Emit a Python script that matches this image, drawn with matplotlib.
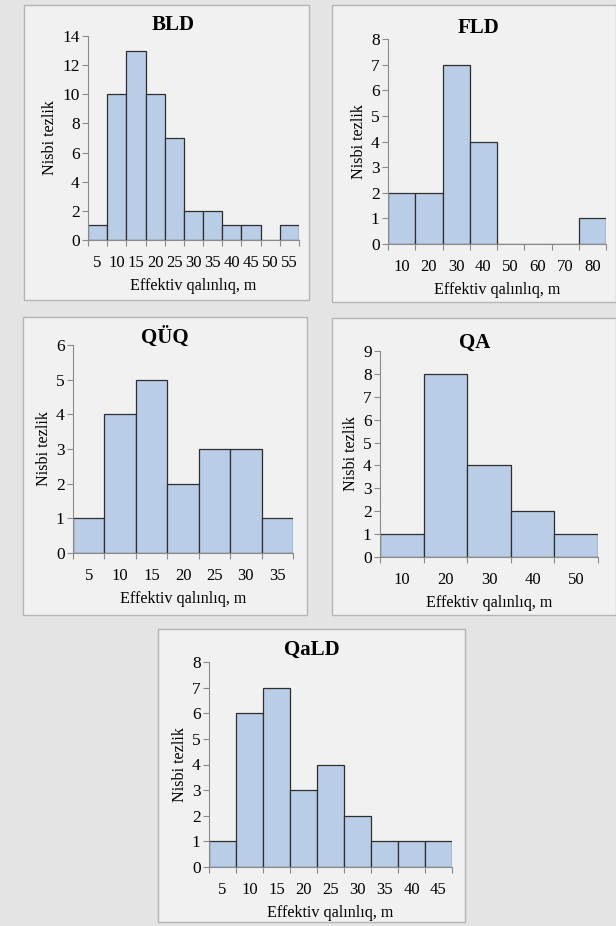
import matplotlib
matplotlib.use('Agg')
import matplotlib.pyplot as plt
from matplotlib.patches import Rectangle

# data
bld_labels = ['5', '10', '15', '20', '25', '30', '35', '40', '45', '50', '55']
bld_values = [1, 10, 13, 10, 7, 2, 2, 1, 1, 0, 1]

fld_labels = ['10', '20', '30', '40', '50', '60', '70', '80']
fld_values = [2, 2, 7, 4, 0, 0, 0, 1]

quq_labels = ['5', '10', '15', '20', '25', '30', '35']
quq_values = [1, 4, 5, 2, 3, 3, 1]

qa_labels = ['10', '20', '30', '40', '50']
qa_values = [1, 8, 4, 2, 1]

qald_labels = ['5', '10', '15', '20', '25', '30', '35', '40', '45']
qald_values = [1, 6, 7, 3, 4, 2, 1, 1, 1]

W, H = 616, 926
plt.rcParams['font.family'] = ['Liberation Serif', 'DejaVu Serif']

fig = plt.figure(figsize=(W / 100, H / 100), dpi=100, facecolor='#e4e4e4')


def px_rect(x0, y0, x1, y1):
    # pixel box (top-left origin) -> figure fraction
    return [x0 / W, 1 - y1 / H, (x1 - x0) / W, (y1 - y0) / H]


def panel(box, axbox, title, title_xy, labels, values, ymax):
    bx = px_rect(*box)
    fig.patches.append(Rectangle((bx[0], bx[1]), bx[2], bx[3], transform=fig.transFigure,
                                 facecolor='#f1f1f1', edgecolor='#b5b5b5', lw=1.0, zorder=-5))
    ax = fig.add_axes(px_rect(*axbox))
    ax.set_zorder(2)
    ax.set_facecolor('none')
    n = len(values)
    ax.bar(range(n), values, width=1.0, color='#b9cde6', edgecolor='#2e2e2e', lw=0.9)
    ax.set_xlim(-0.5, n - 0.5)
    ax.set_ylim(0, ymax)
    for s in ['top', 'right']:
        ax.spines[s].set_visible(False)
    for s in ['left', 'bottom']:
        ax.spines[s].set_color('#8a8a8a')
        ax.spines[s].set_linewidth(0.8)
    ax.set_xticks([i - 0.5 for i in range(n + 1)])
    ax.set_xticklabels([])
    ax.set_xticks(range(n), minor=True)
    ax.set_xticklabels(labels, minor=True, fontsize=12)
    ax.tick_params(axis='x', which='major', length=4, color='#8a8a8a')
    ax.tick_params(axis='x', which='minor', length=0, pad=11)
    ax.tick_params(axis='y', length=4, color='#8a8a8a', labelsize=12.5, pad=2)
    ax.set_yticks(range(0, ymax + 1, 2 if ymax > 10 else 1))
    ax.set_ylabel('Nisbi tezlik', fontsize=11.6, labelpad=3)
    ax.set_xlabel('Effektiv qalınlıq, m', fontsize=11.6, labelpad=5)
    fig.text(title_xy[0] / W, 1 - title_xy[1] / H, title, fontsize=15, fontweight='bold',
             ha='center', va='center')
    return ax


panel((24, 5, 309, 300), (88, 36, 299, 240), 'BLD', (173, 25), bld_labels, bld_values, 14)
panel((332, 5, 616, 302), (388, 39, 606, 244), 'FLD', (478, 28), fld_labels, fld_values, 8)
panel((23, 317, 307, 615), (73, 345, 293, 553), 'QÜQ', (165, 337), quq_labels, quq_values, 6)
panel((332, 318, 616, 615), (380, 351, 598, 557), 'QA', (475, 343), qa_labels, qa_values, 9)
panel((158, 629, 465, 922), (209, 662, 452, 867), 'QaLD', (312, 650), qald_labels, qald_values, 8)

fig.savefig('out.png', dpi=100, facecolor=fig.get_facecolor())
